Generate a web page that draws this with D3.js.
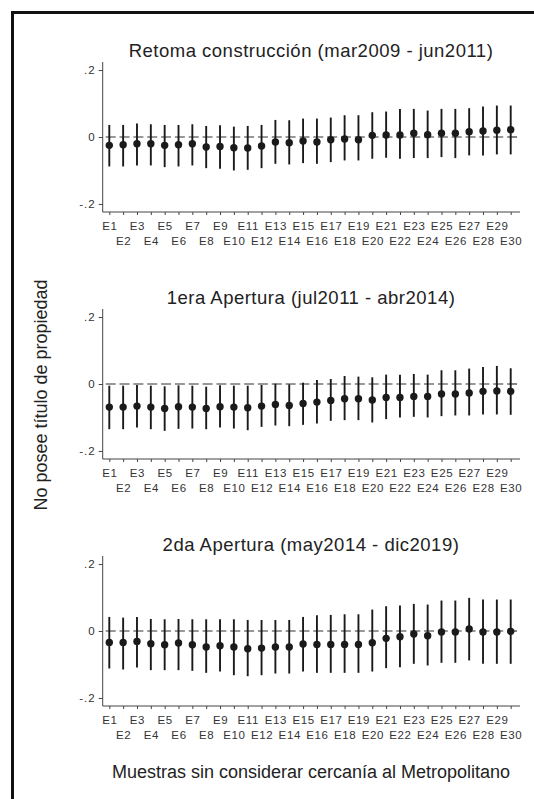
<!DOCTYPE html>
<html><head><meta charset="utf-8">
<script src="https://cdn.jsdelivr.net/npm/d3@7"></script>
<style>body{margin:0;background:#fff}svg{display:block}text{font-family:"Liberation Sans",Arial,sans-serif}</style>
</head><body><svg id="c" width="534" height="799"></svg>
<script>
const categories = ["E1","E2","E3","E4","E5","E6","E7","E8","E9","E10","E11","E12","E13","E14","E15","E16","E17","E18","E19","E20","E21","E22","E23","E24","E25","E26","E27","E28","E29","E30"];
const panelTitles = ["Retoma construcción (mar2009 - jun2011)","1era Apertura (jul2011 - abr2014)","2da Apertura (may2014 - dic2019)"];
const yTickValues = [-0.2, 0, 0.2];
const yTickLabels = ["-.2", "0", ".2"];

const est1 = [-0.025,-0.023,-0.020,-0.020,-0.025,-0.023,-0.020,-0.030,-0.028,-0.032,-0.033,-0.027,-0.015,-0.017,-0.012,-0.015,-0.008,-0.006,-0.008,0.005,0.006,0.006,0.011,0.007,0.011,0.011,0.016,0.018,0.020,0.022];
const lo1 = [-0.088,-0.088,-0.085,-0.085,-0.090,-0.088,-0.085,-0.093,-0.095,-0.100,-0.098,-0.093,-0.080,-0.082,-0.078,-0.080,-0.075,-0.070,-0.070,-0.065,-0.062,-0.065,-0.063,-0.063,-0.060,-0.063,-0.055,-0.055,-0.052,-0.052];
const hi1 = [0.036,0.036,0.040,0.038,0.036,0.036,0.038,0.033,0.035,0.031,0.033,0.036,0.051,0.050,0.055,0.055,0.058,0.065,0.065,0.074,0.076,0.084,0.084,0.079,0.084,0.084,0.086,0.091,0.094,0.094];

const est2 = [-0.069,-0.069,-0.066,-0.069,-0.073,-0.068,-0.069,-0.073,-0.068,-0.069,-0.071,-0.066,-0.061,-0.064,-0.058,-0.054,-0.049,-0.044,-0.044,-0.048,-0.040,-0.040,-0.037,-0.037,-0.030,-0.030,-0.027,-0.022,-0.021,-0.022];
const lo2 = [-0.135,-0.135,-0.130,-0.135,-0.140,-0.134,-0.133,-0.135,-0.130,-0.133,-0.138,-0.128,-0.124,-0.126,-0.122,-0.118,-0.110,-0.108,-0.108,-0.115,-0.105,-0.100,-0.098,-0.100,-0.096,-0.094,-0.094,-0.091,-0.091,-0.092];
const hi2 = [-0.005,-0.005,-0.003,-0.005,-0.007,-0.004,-0.005,-0.008,-0.004,-0.005,-0.005,-0.003,0.001,-0.001,0.004,0.012,0.015,0.024,0.022,0.020,0.028,0.028,0.030,0.028,0.041,0.041,0.046,0.051,0.054,0.047];

const est3 = [-0.034,-0.034,-0.031,-0.038,-0.041,-0.036,-0.041,-0.048,-0.044,-0.048,-0.053,-0.051,-0.048,-0.048,-0.039,-0.040,-0.040,-0.040,-0.040,-0.035,-0.022,-0.017,-0.009,-0.014,-0.003,-0.003,0.006,-0.003,-0.003,-0.001];
const lo3 = [-0.112,-0.115,-0.109,-0.117,-0.117,-0.117,-0.119,-0.125,-0.121,-0.132,-0.135,-0.132,-0.127,-0.127,-0.121,-0.125,-0.125,-0.125,-0.125,-0.121,-0.111,-0.108,-0.098,-0.103,-0.095,-0.095,-0.088,-0.098,-0.098,-0.098];
const hi3 = [0.042,0.040,0.042,0.036,0.035,0.036,0.035,0.035,0.035,0.035,0.033,0.033,0.033,0.033,0.042,0.047,0.048,0.050,0.050,0.064,0.074,0.076,0.081,0.079,0.091,0.091,0.099,0.094,0.094,0.094];

const panels = [
  {title: panelTitles[0], est: est1, lo: lo1, hi: hi1, top: 62},
  {title: panelTitles[1], est: est2, lo: lo2, hi: hi2, top: 309},
  {title: panelTitles[2], est: est3, lo: lo3, hi: hi3, top: 556}
];

const svg = d3.select("#c");
svg.append("rect").attr("width",534).attr("height",799).attr("fill","#fff");
// frame
svg.append("path").attr("d","M12.5,799 L12.5,12.5 L534,12.5").attr("fill","none").attr("stroke","#111").attr("stroke-width",3);

const x0 = 102.7, x1 = 520, ph = 150;
const x = d3.scalePoint().domain(categories).range([109.3, 510.7]);
const ink = "#1a1a1a", axisCol = "#444";

panels.forEach(p => {
  const y = d3.scaleLinear().domain([-0.224, 0.224]).range([p.top + ph, p.top]);
  const g = svg.append("g");
  // title
  g.append("text").attr("x", 311).attr("y", p.top - 5).attr("text-anchor","middle")
    .attr("font-size", 18.5).attr("letter-spacing","0.5px").attr("fill","#222").text(p.title);
  // y axis
  const ya = g.append("g").attr("transform",`translate(${x0},0)`)
    .call(d3.axisLeft(y).tickValues(yTickValues).tickSize(4).tickFormat((d,i)=>yTickLabels[i]));
  ya.select(".domain").attr("d",`M0,${p.top}V${p.top+ph}`).attr("stroke",axisCol);
  ya.selectAll(".tick line").attr("stroke",axisCol);
  ya.selectAll(".tick text").attr("font-size",11.5).attr("fill","#333").attr("x",-7).attr("letter-spacing","1px")
    .style("font-family","'Liberation Sans',Arial,sans-serif");
  // x axis
  const xa = g.append("g").attr("transform",`translate(0,${p.top+ph})`)
    .call(d3.axisBottom(x).tickSize(3).tickPadding(0));
  xa.select(".domain").attr("d",`M${x0},0H${x1}`).attr("stroke",axisCol);
  xa.selectAll(".tick line").attr("stroke",axisCol);
  xa.selectAll(".tick text").attr("font-size",11.5).attr("fill","#333").attr("letter-spacing","0.6px")
    .style("font-family","'Liberation Sans',Arial,sans-serif")
    .attr("y",(d,i)=> i%2===0 ? 10 : 25).attr("dy","0.71em");
  // zero line
  g.append("line").attr("x1",x0).attr("x2",x1).attr("y1",y(0)).attr("y2",y(0))
    .attr("stroke","#333").attr("stroke-width",1.2).attr("stroke-dasharray","10,3.84")
    .attr("stroke-dashoffset",-3);
  // CIs
  g.selectAll("line.ci").data(categories).join("line").attr("class","ci")
    .attr("x1",d=>x(d)).attr("x2",d=>x(d))
    .attr("y1",(d,i)=>y(p.lo[i])).attr("y2",(d,i)=>y(p.hi[i]))
    .attr("stroke",ink).attr("stroke-width",1.9);
  g.selectAll("circle.pt").data(categories).join("circle").attr("class","pt")
    .attr("cx",d=>x(d)).attr("cy",(d,i)=>y(p.est[i])).attr("r",3.7).attr("fill",ink);
});

svg.append("text").attr("transform","translate(47,395) rotate(-90)").attr("text-anchor","middle")
  .attr("font-size",18).attr("fill","#222").text("No posee título de propiedad");
svg.append("text").attr("x",311).attr("y",778).attr("text-anchor","middle")
  .attr("font-size",18).attr("fill","#222").text("Muestras sin considerar cercanía al Metropolitano");
</script></body></html>
